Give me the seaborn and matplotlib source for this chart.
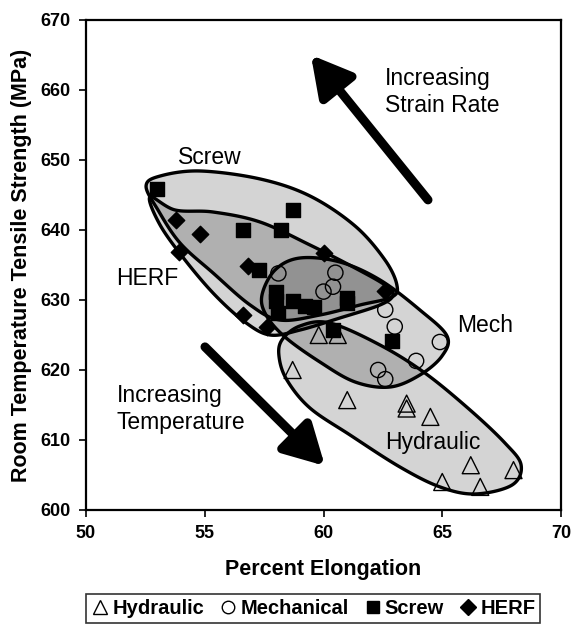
import numpy as np
import pandas as pd
import matplotlib
matplotlib.use("Agg")
import matplotlib.pyplot as plt
from matplotlib.lines import Line2D
from matplotlib.patches import Polygon
import seaborn as sns

# Percent elongation / room temperature UTS (MPa) for each forming process
hyd_elong = [59.8, 60.6, 58.7, 61.0, 63.5, 63.5, 64.5, 66.2, 68.0, 65.0, 66.6]
hyd_uts = [625.0, 625.0, 620.0, 615.7, 615.2, 614.5, 613.3, 606.4, 605.7, 604.0, 603.3]

mech_elong = [58.1, 60.5, 60.4, 60.0, 62.6, 63.0, 64.9, 63.9, 62.3, 62.6]
mech_uts = [633.8, 633.9, 631.9, 631.2, 628.6, 626.2, 624.0, 621.3, 620.0, 618.7]

screw_elong = [53.0, 56.6, 58.2, 58.7, 57.3, 58.0, 58.0, 58.1, 58.7, 59.2, 59.6, 61.0, 61.0, 60.4, 62.9]
screw_uts = [645.8, 640.0, 640.0, 642.8, 634.3, 631.2, 629.8, 628.2, 629.8, 629.2, 629.0, 630.3, 629.6, 625.7, 624.2]

herf_elong = [53.8, 54.8, 53.9, 56.8, 60.0, 56.6, 57.6, 62.6]
herf_uts = [641.4, 639.5, 636.9, 634.8, 636.7, 627.8, 626.2, 631.3]

# Hand-drawn envelopes around each process group (elongation, MPa)
screw_env = [(52.53, 646.29), (53.12, 647.71), (54.80, 648.43), (57.33, 647.29),
             (59.43, 644.86), (61.33, 640.57), (62.59, 635.71), (63.09, 632.14),
             (62.88, 630.43), (61.54, 629.29), (59.85, 627.86), (58.17, 627.14),
             (56.91, 629.29), (55.35, 633.86), (53.96, 638.14), (53.03, 642.86)]
herf_env = [(52.69, 644.71), (53.75, 642.86), (55.35, 642.57), (57.33, 641.14),
            (59.43, 637.86), (61.33, 634.57), (62.59, 632.14), (62.93, 630.71),
            (62.38, 629.29), (60.69, 627.43), (59.01, 625.71), (57.75, 625.0),
            (56.69, 626.86), (55.43, 630.71), (54.17, 635.71), (53.12, 640.71)]
mech_env = [(57.41, 630.71), (57.96, 634.29), (59.01, 636.0), (60.69, 635.43),
            (62.38, 632.86), (64.06, 628.57), (65.20, 624.86), (64.99, 622.0),
            (64.06, 619.29), (62.80, 617.57), (61.33, 618.29), (59.85, 621.14),
            (58.38, 624.71), (57.58, 627.86)]
hyd_env = [(58.25, 624.29), (59.01, 626.29), (60.27, 626.71), (62.38, 623.57),
           (64.27, 619.57), (66.17, 614.29), (67.64, 609.57), (68.32, 606.43),
           (67.94, 603.57), (66.38, 602.29), (64.91, 603.29), (63.22, 606.14),
           (61.12, 610.71), (59.43, 614.57), (58.46, 618.57), (58.13, 621.86)]

sns.set_theme(style="white")
plt.rcParams["font.family"] = ["Liberation Sans", "DejaVu Sans"]
plt.rcParams["text.color"] = "black"
plt.rcParams["axes.labelcolor"] = "black"
plt.rcParams["xtick.color"] = "black"
plt.rcParams["ytick.color"] = "black"

fig = plt.figure(figsize=(5.73, 6.26), dpi=100)
ax = fig.add_axes([86 / 573, 1 - 510 / 626, (561 - 86) / 573, (510 - 20) / 626])


def smooth_closed(points, n=40):
    """Periodic Catmull-Rom spline through the outline anchors."""
    p = np.asarray(points, dtype=float)
    # work in axis-normalised units so both directions weigh equally
    scale = np.array([20.0, 70.0])
    q = p / scale
    m = len(q)
    out = []
    for i in range(m):
        p0, p1, p2, p3 = q[(i - 1) % m], q[i], q[(i + 1) % m], q[(i + 2) % m]
        t = np.linspace(0, 1, n, endpoint=False)[:, None]
        seg = 0.5 * ((2 * p1) + (-p0 + p2) * t + (2 * p0 - 5 * p1 + 4 * p2 - p3) * t ** 2
                     + (-p0 + 3 * p1 - 3 * p2 + p3) * t ** 3)
        out.append(seg)
    return np.vstack(out) * scale


envelopes = [screw_env, herf_env, mech_env, hyd_env]
for env in envelopes:
    ax.add_patch(Polygon(smooth_closed(env), closed=True, facecolor="black",
                         alpha=0.17, edgecolor="none", zorder=1))
for env in envelopes:
    ax.add_patch(Polygon(smooth_closed(env), closed=True, facecolor="none",
                         edgecolor="black", lw=2.4, zorder=2))

groups = [
    (hyd_elong, hyd_uts, "^", "none", 150),
    (mech_elong, mech_uts, "o", "none", 120),
    (screw_elong, screw_uts, "s", "black", 115),
    (herf_elong, herf_uts, "D", "black", 70),
]
for xs, ys, mk, fc, size in groups:
    df = pd.DataFrame({"elong": xs, "uts": ys})
    sns.scatterplot(data=df, x="elong", y="uts", marker=mk, s=size,
                    facecolor=fc, edgecolor="black", linewidth=1.0,
                    ax=ax, zorder=3, legend=False)

# region labels
lab = dict(fontsize=16.5, color="black", ha="center", va="center", zorder=4)
ax.text(55.22, 650.3, "Screw", **lab)
ax.text(52.57, 633.1, "HERF", **lab)
ax.text(66.8, 626.3, "Mech", **lab)
ax.text(64.6, 609.6, "Hydraulic", **lab)

# trend arrows
arrow = dict(arrowstyle="-|>,head_length=1.0,head_width=0.55", lw=6.5, color="black",
             mutation_scale=24, shrinkA=0, shrinkB=0)
ax.annotate("", xy=(59.47, 665.0), xytext=(64.4, 644.3), arrowprops=arrow, zorder=4)
ax.annotate("", xy=(60.06, 606.3), xytext=(55.01, 623.3), arrowprops=arrow, zorder=4)
ax.text(62.6, 659.7, "Increasing\nStrain Rate", fontsize=16.5, ha="left", va="center",
        linespacing=1.2, zorder=4)
ax.text(51.3, 614.4, "Increasing\nTemperature", fontsize=16.5, ha="left", va="center",
        linespacing=1.2, zorder=4)

ax.set_xlim(50, 70)
ax.set_ylim(600, 670)
ax.set_xticks([50, 55, 60, 65, 70])
ax.set_yticks(np.arange(600, 671, 10))
ax.tick_params(direction="out", length=5, width=1.2, color="black",
               labelsize=13, bottom=True, left=True, pad=6)
for lbl in ax.get_xticklabels() + ax.get_yticklabels():
    lbl.set_fontweight("bold")
for sp in ax.spines.values():
    sp.set_color("black")
    sp.set_linewidth(1.6)
ax.set_xlabel("Percent Elongation", fontsize=15.5, fontweight="bold", labelpad=12)
ax.set_ylabel("Room Temperature Tensile Strength (MPa)", fontsize=15.5,
              fontweight="bold", labelpad=6)

handles = [
    Line2D([], [], ls="none", marker="^", mfc="none", mec="black", ms=10, label="Hydraulic"),
    Line2D([], [], ls="none", marker="o", mfc="none", mec="black", ms=9, label="Mechanical"),
    Line2D([], [], ls="none", marker="s", mfc="black", mec="black", ms=9, label="Screw"),
    Line2D([], [], ls="none", marker="D", mfc="black", mec="black", ms=8, label="HERF"),
]
leg = fig.legend(handles=handles, loc="upper left", bbox_to_anchor=(86 / 573, 1 - 594 / 626),
                 ncol=4, frameon=True, fancybox=False, edgecolor="black",
                 prop={"weight": "bold", "size": 14.5}, handletextpad=0.15,
                 columnspacing=0.75, handlelength=0.9, borderpad=0.25, borderaxespad=0)
leg.get_frame().set_linewidth(1.2)

fig.savefig("out.png", dpi=100)
